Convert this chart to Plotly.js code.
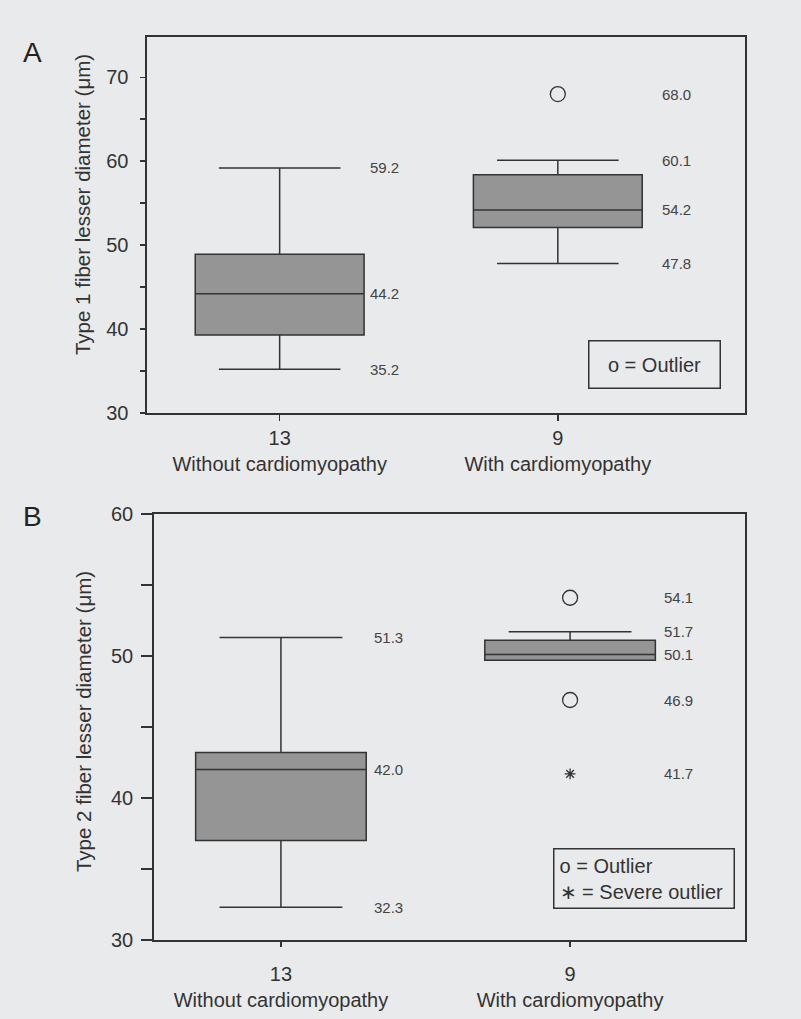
<!DOCTYPE html>
<html>
<head>
<meta charset="utf-8">
<script src="https://cdn.plot.ly/plotly-3.0.1.min.js"></script>
<style>html,body{margin:0;padding:0;background:#e9eaec;}</style>
</head>
<body>
<div id="chart" style="width:801px;height:1019px;"></div>
<script>
// ---- data ----
const categories = ['Without cardiomyopathy', 'With cardiomyopathy'];
const groupN = ['13', '9'];
const catIndex = [0, 1];

// Panel A: Type 1 fiber lesser diameter (μm)
const aLower  = [35.2, 47.8];
const aQ1     = [39.3, 52.1];
const aMedian = [44.2, 54.2];
const aQ3     = [48.9, 58.4];
const aUpper  = [59.2, 60.1];
const aOutlierX = [1];
const aOutlierY = [68.0];
const aLabels0 = [59.2, 44.2, 35.2];
const aLabels1 = [68.0, 60.1, 54.2, 47.8];

// Panel B: Type 2 fiber lesser diameter (μm)
const bLower  = [32.3, 49.7];
const bQ1     = [37.0, 49.7];
const bMedian = [42.0, 50.1];
const bQ3     = [43.2, 51.1];
const bUpper  = [51.3, 51.7];
const bOutlierX = [1, 1];
const bOutlierY = [54.1, 46.9];
const bSevereX = [1];
const bSevereY = [41.7];
const bLabels0 = [51.3, 42.0, 32.3];
const bLabels1 = [54.1, 51.7, 50.1, 46.9, 41.7];

// ---- styles ----
const FONT = 'Liberation Sans, Arial, sans-serif';
const INK = '#333333';
const BG = '#e9eaec';
const BOXFILL = '#959595';

function boxTrace(q1, med, q3, lo, hi, xa, ya, width) {
  return {
    type: 'box', x: catIndex, q1: q1, median: med, q3: q3,
    lowerfence: lo, upperfence: hi, width: width, whiskerwidth: 0.72,
    fillcolor: BOXFILL, line: {color: INK, width: 1.5},
    boxpoints: false, xaxis: xa, yaxis: ya, showlegend: false, hoverinfo: 'skip'
  };
}
function pointTrace(x, y, symbol, size, xa, ya) {
  return {
    type: 'scatter', mode: 'markers', x: x, y: y, xaxis: xa, yaxis: ya,
    marker: {symbol: symbol, size: size, color: INK, line: {color: INK, width: 1.3}},
    showlegend: false, hoverinfo: 'skip'
  };
}

const data = [
  boxTrace(aQ1, aMedian, aQ3, aLower, aUpper, 'x', 'y', 0.607),
  pointTrace(aOutlierX, aOutlierY, 'circle-open', 15, 'x', 'y'),
  boxTrace(bQ1, bMedian, bQ3, bLower, bUpper, 'x2', 'y2', 0.59),
  pointTrace(bOutlierX, bOutlierY, 'circle-open', 15, 'x2', 'y2'),
  pointTrace(bSevereX, bSevereY, 'asterisk-open', 9, 'x2', 'y2')
];

const tickText = catIndex.map(i => groupN[i] + '<br>' + categories[i]);

function valueLabels(vals, xpos, xr, yr) {
  return vals.map(v => ({
    x: xpos, y: v, xref: xr, yref: yr, text: v.toFixed(1), showarrow: false,
    xanchor: 'left', yanchor: 'middle', font: {family: FONT, size: 15, color: '#444'}
  }));
}

const xBase = {
  tickmode: 'array', tickvals: catIndex, ticktext: tickText,
  ticks: 'outside', tickcolor: INK, tickwidth: 1.5,
  showline: true, mirror: true, linecolor: INK, linewidth: 1.5,
  showgrid: false, zeroline: false, fixedrange: true,
  tickfont: {family: FONT, size: 20, color: INK}
};
const yBase = {
  tick0: 0, dtick: 10, ticks: 'outside', tickcolor: INK, tickwidth: 1.5,
  showline: true, mirror: true, linecolor: INK, linewidth: 1.5,
  showgrid: false, zeroline: false, fixedrange: true,
  tickfont: {family: FONT, size: 20, color: INK}
};

const layout = {
  width: 801, height: 1019,
  margin: {l: 0, r: 0, t: 0, b: 0},
  paper_bgcolor: BG, plot_bgcolor: BG,
  showlegend: false,
  xaxis: Object.assign({}, xBase, {domain: [0.1835, 0.9301], range: [-0.477, 1.673], anchor: 'y', ticklen: 6, ticklabelstandoff: 0}),
  yaxis: Object.assign({}, yBase, {domain: [0.5947, 0.9637], range: [30, 74.8], anchor: 'x', ticklen: 5, ticklabelstandoff: 8,
    minor: {dtick: 5, tick0: 0, ticks: 'outside', ticklen: 5, tickcolor: INK, tickwidth: 1.5, showgrid: false}}),
  xaxis2: Object.assign({}, xBase, {domain: [0.1919, 0.9301], range: [-0.44, 1.605], anchor: 'y2', ticklen: 5, ticklabelstandoff: 10}),
  yaxis2: Object.assign({}, yBase, {domain: [0.0775, 0.4956], range: [30, 60], anchor: 'x2', ticklen: 11, ticklabelstandoff: 4,
    minor: {dtick: 5, tick0: 0, ticks: 'outside', ticklen: 11, tickcolor: INK, tickwidth: 1.5, showgrid: false}}),
  annotations: [].concat(
    valueLabels(aLabels0, 0.318, 'x', 'y'),
    valueLabels(aLabels1, 1.367, 'x', 'y'),
    valueLabels(bLabels0, 0.315, 'x2', 'y2'),
    valueLabels(bLabels1, 1.318, 'x2', 'y2'),
    [
      {x: 0.1024, y: 0.7988, xref: 'paper', yref: 'paper', text: 'Type 1 fiber lesser diameter (μm)', textangle: -90,
       showarrow: false, xanchor: 'center', yanchor: 'middle', font: {family: FONT, size: 20.5, color: INK}},
      {x: 0.1036, y: 0.2924, xref: 'paper', yref: 'paper', text: 'Type 2 fiber lesser diameter (μm)', textangle: -90,
       showarrow: false, xanchor: 'center', yanchor: 'middle', font: {family: FONT, size: 20.5, color: INK}},
      {x: 0.0406, y: 0.948, xref: 'paper', yref: 'paper', text: 'A', showarrow: false,
       xanchor: 'center', yanchor: 'middle', font: {family: FONT, size: 28, color: '#222'}},
      {x: 0.0406, y: 0.4936, xref: 'paper', yref: 'paper', text: 'B', showarrow: false,
       xanchor: 'center', yanchor: 'middle', font: {family: FONT, size: 28, color: '#222'}},
      {x: 0.849, y: 0.130, xref: 'x domain', yref: 'y domain', text: 'o = Outlier', showarrow: false,
       xanchor: 'center', yanchor: 'middle', width: 130, height: 46, borderpad: 0,
       bordercolor: INK, borderwidth: 1.5, font: {family: FONT, size: 20, color: INK}},
      {x: 0.830, y: 0.144, xref: 'x2 domain', yref: 'y2 domain', text: 'o = Outlier<br>∗ = Severe outlier', showarrow: false,
       xanchor: 'center', yanchor: 'middle', align: 'left', width: 169, borderpad: 5,
       bordercolor: INK, borderwidth: 1.5, font: {family: FONT, size: 20, color: INK}}
    ]
  )
};

Plotly.newPlot('chart', data, layout, {staticPlot: true, displayModeBar: false});
</script>
</body>
</html>
